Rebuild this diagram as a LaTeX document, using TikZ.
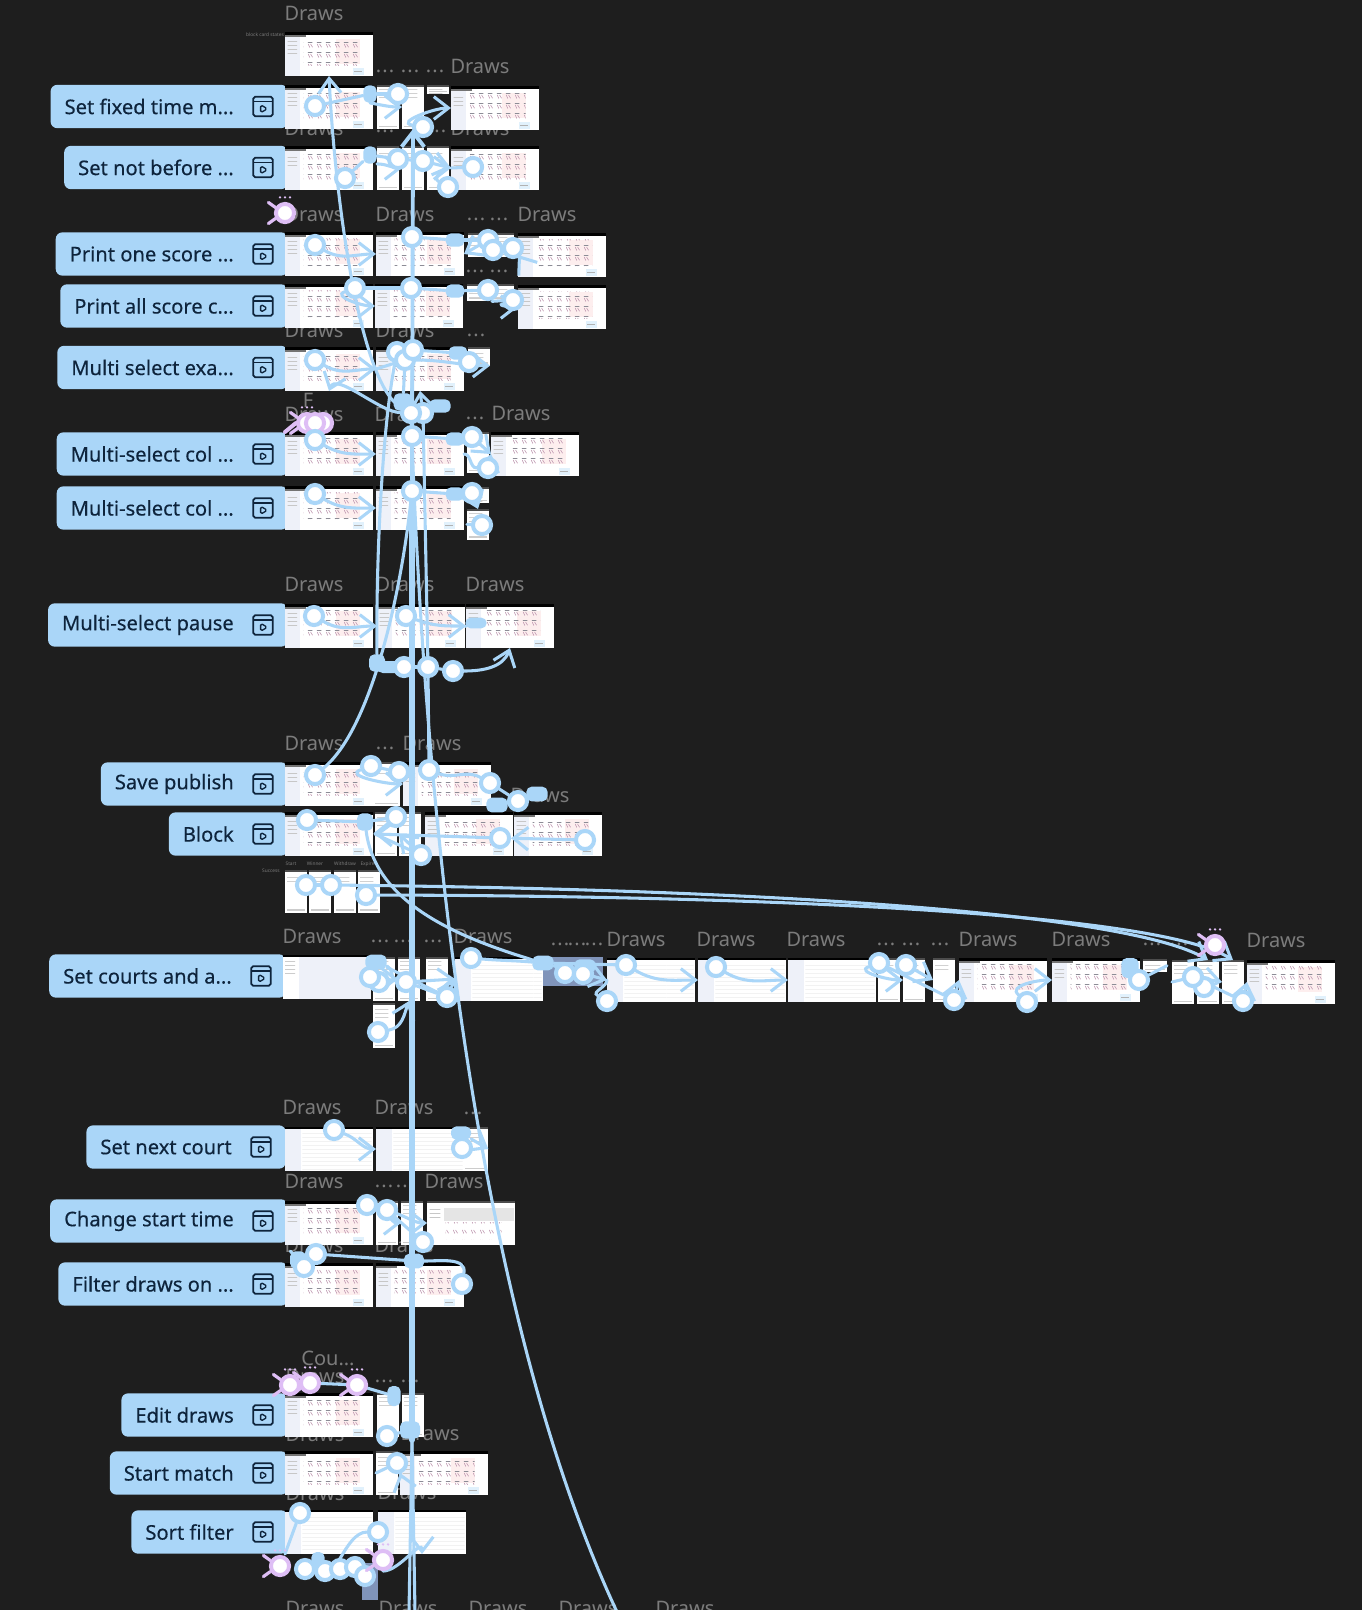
\documentclass[tikz,border=0pt]{standalone}
\usepackage{fontspec}
\setmainfont{Noto Sans}
\newfontfamily\pillfont{Noto Sans}[FakeBold=0.35]
\newfontfamily\dotfont{Noto Sans}[LetterSpace=6]
\usepackage{xcolor}
\usepackage{tikz}
\usetikzlibrary{arrows.meta, calc, patterns}
\definecolor{bgdark}{RGB}{30,30,30}
\definecolor{linkblue}{RGB}{170,214,248}
\definecolor{pilltext}{RGB}{14,36,60}
\definecolor{capgrey}{RGB}{124,124,124}
\definecolor{sparkpurple}{RGB}{222,190,245}
\definecolor{sideblue}{RGB}{238,241,249}
\definecolor{cardpink}{RGB}{190,150,175}
\definecolor{cardgrey}{RGB}{140,140,150}
\definecolor{tintpink}{RGB}{253,238,238}
\definecolor{dimblue}{RGB}{128,148,186}
\pgfdeclarelayer{back}
\pgfdeclarelayer{links}
\pgfsetlayers{back,links,main}
\pgfdeclarepatternformonly{cardgrid}{\pgfqpoint{0pt}{0pt}}{\pgfqpoint{6.4pt}{7.6pt}}{\pgfqpoint{6.4pt}{7.6pt}}{
  \pgfsetlinewidth{0.45pt}
  \pgfpathmoveto{\pgfqpoint{1pt}{4.8pt}}\pgfpathlineto{\pgfqpoint{2.2pt}{2pt}}
  \pgfpathmoveto{\pgfqpoint{2.8pt}{4.8pt}}\pgfpathlineto{\pgfqpoint{4.4pt}{2.2pt}}
  \pgfusepath{stroke}
}
\pgfdeclarepatternformonly{cardbar}{\pgfqpoint{0pt}{0pt}}{\pgfqpoint{6.4pt}{7.6pt}}{\pgfqpoint{6.4pt}{7.6pt}}{
  \pgfsetlinewidth{0.5pt}
  \pgfpathmoveto{\pgfqpoint{0.6pt}{6pt}}\pgfpathlineto{\pgfqpoint{4.2pt}{6pt}}
  \pgfusepath{stroke}
}
\tikzset{
  thumb/.style={rectangle, fill=white, inner sep=0pt, outer sep=0pt, anchor=north west,
    minimum width=66pt, minimum height=33pt},
  board/.style={thumb, path picture={
    \fill[black] (path picture bounding box.north west) rectangle ([yshift=-2.4pt]path picture bounding box.north east);
    \fill[sideblue] ([yshift=-2.4pt]path picture bounding box.north west) rectangle ([xshift=11pt]path picture bounding box.south west);
    \fill[black!55] ([yshift=-2.4pt]path picture bounding box.north west) rectangle ([shift={(16pt,-4pt)}]path picture bounding box.north west);
    \fill[pattern=horizontal lines, pattern color=black!22] ([shift={(2pt,-6pt)}]path picture bounding box.north west) rectangle ([shift={(9pt,-17pt)}]path picture bounding box.north west);
    \fill[tintpink] ([shift={(38pt,-5pt)}]path picture bounding box.north west) rectangle ([shift={(-10pt,9pt)}]path picture bounding box.south east);
    \fill[pattern=cardbar, pattern color=cardgrey] ([shift={(14pt,-5pt)}]path picture bounding box.north west) rectangle ([shift={(-10pt,8pt)}]path picture bounding box.south east);
    \fill[pattern=cardgrid, pattern color=cardpink] ([shift={(14pt,-5pt)}]path picture bounding box.north west) rectangle ([shift={(-10pt,8pt)}]path picture bounding box.south east);
    \fill[linkblue!35] ([shift={(-15pt,6pt)}]path picture bounding box.south east) rectangle ([shift={(-7pt,1pt)}]path picture bounding box.south east);
    \fill[black!30] ([shift={(-14pt,3.5pt)}]path picture bounding box.south east) rectangle ([shift={(-8pt,3pt)}]path picture bounding box.south east);
  }},
  blank/.style={thumb, path picture={
    \fill[black] (path picture bounding box.north west) rectangle ([yshift=-1.6pt]path picture bounding box.north east);
    \fill[sideblue] ([yshift=-1.6pt]path picture bounding box.north west) rectangle ([xshift=12pt]path picture bounding box.south west);
    \fill[pattern=horizontal lines, pattern color=black!5] ([shift={(13pt,-4pt)}]path picture bounding box.north west) rectangle ([shift={(-1pt,1pt)}]path picture bounding box.south east);
  }},
  paleblank/.style={thumb, fill=sideblue, path picture={
    \fill[black] (path picture bounding box.north west) rectangle ([yshift=-1.6pt]path picture bounding box.north east);
    \fill[white] ([yshift=-1.6pt]path picture bounding box.north west) rectangle ([xshift=12pt]path picture bounding box.south west);
    \fill[pattern=horizontal lines, pattern color=black!20] ([shift={(1.5pt,-3pt)}]path picture bounding box.north west) rectangle ([shift={(9pt,-14pt)}]path picture bounding box.north west);
  }},
  fadedboard/.style={thumb, path picture={
    \fill[black!70] (path picture bounding box.north west) rectangle ([yshift=-1.6pt]path picture bounding box.north east);
    \fill[black!10] ([shift={(13pt,-5pt)}]path picture bounding box.north west) rectangle ([shift={(-1pt,-15pt)}]path picture bounding box.north east);
    \fill[pattern=cardgrid, pattern color=cardpink] ([shift={(14pt,-16pt)}]path picture bounding box.north west) rectangle ([shift={(-10pt,4pt)}]path picture bounding box.south east);
    \fill[pattern=horizontal lines, pattern color=black!22] ([shift={(2pt,-4pt)}]path picture bounding box.north west) rectangle ([shift={(10pt,-14pt)}]path picture bounding box.north west);
  }},
  panel/.style={thumb, minimum width=16.5pt, path picture={
    \fill[black!70] (path picture bounding box.north west) rectangle ([yshift=-1.8pt]path picture bounding box.north east);
    \fill[pattern=horizontal lines, pattern color=black!18] ([shift={(1.5pt,-3pt)}]path picture bounding box.north west) rectangle ([shift={(-5pt,-11pt)}]path picture bounding box.north east);
    \fill[black!20] ([shift={(1.5pt,2.4pt)}]path picture bounding box.south west) rectangle ([shift={(-1.5pt,1.4pt)}]path picture bounding box.south east);
  }},
  dimframe/.style={thumb, fill=dimblue, minimum width=45pt, minimum height=22pt},
  pill/.style={rectangle, fill=linkblue, text=pilltext, anchor=east, rounded corners=5pt,
    minimum height=32.5pt, inner xsep=10.5pt, inner ysep=0pt, font=\pillfont\fontsize{15.1}{18}\selectfont,
    execute at end node={\hspace{30pt}}},
  playicon/.style={rectangle, draw=pilltext, line width=1.3pt, rounded corners=1.4pt, inner sep=0pt,
    minimum size=14.6pt, path picture={
      \draw[pilltext, line width=1.3pt] ([yshift=-3.6pt]path picture bounding box.north west) -- ([yshift=-3.6pt]path picture bounding box.north east);
      \draw[pilltext, line width=1pt, line join=round] ([shift={(-1.8pt,1.3pt)}]path picture bounding box.center) -- ([shift={(-1.8pt,-4.7pt)}]path picture bounding box.center) -- ([shift={(3.2pt,-1.7pt)}]path picture bounding box.center) -- cycle;
  }},
  caplabel/.style={text=capgrey, inner sep=0pt, font=\fontsize{15}{18}\selectfont},
  dotlabel/.style={caplabel, yshift=-2.2pt, font=\dotfont\fontsize{15}{18}\selectfont},
  tinylabel/.style={text=capgrey, inner sep=0pt, font=\fontsize{3.6}{4}\selectfont},
  hotspot/.style={circle, draw=linkblue, fill=white, line width=3pt, minimum size=13.6pt, inner sep=0pt},
  sparkarm/.style={draw=sparkpurple, line width=2.4pt, line cap=round},
  sparkdots/.style={draw=sparkpurple, line width=2pt, line cap=round, dash pattern=on 0pt off 3.75pt},
  spark/.style={hotspot, draw=sparkpurple, append after command={
    (\tikzlastnode.150) edge[sparkarm] ++(-7,-5)
    (\tikzlastnode.210) edge[sparkarm] ++(-7,5)
    ([xshift=-3.75pt,yshift=3.4pt]\tikzlastnode.north) edge[sparkdots] ++(10.5,0)}},
  plainspark/.style={hotspot, draw=sparkpurple},
  blob/.style={rectangle, rounded corners=4pt, fill=linkblue, inner sep=0pt, minimum width=14pt, minimum height=13pt},
  link/.style={draw=linkblue, line width=2.3pt, line cap=round},
  spine/.style={link, line width=4.2pt},
  flow/.style={link, -{Straight Barb[length=11pt, width=17pt]}}
}
\begin{document}
\begin{tikzpicture}[x=0.75pt, y=-0.75pt]
  \useasboundingbox (0,0) rectangle (1362,1610);

  \begin{pgfonlayer}{back}
  \fill[bgdark] (0,0) rectangle (1362,1610);
  % Captions, frames cover part of them
  \node[caplabel] (c1) at (314,13) {Draws};
  \node[tinylabel] (c2) at (265,35) {block card states};
  \node[dotlabel] (c3) at (385,68) {...};
  \node[dotlabel] (c4) at (410,68) {...};
  \node[dotlabel] (c5) at (435,68) {...};
  \node[caplabel] (c6) at (480,66) {Draws};
  \node[caplabel] (c7) at (314,128) {Draws};
  \node[dotlabel] (c8) at (385,128) {...};
  \node[dotlabel] (c9) at (437,128) {...};
  \node[caplabel] (c10) at (480,128) {Draws};
  \node[caplabel] (c11) at (314,214) {Draws};
  \node[caplabel] (c12) at (405,214) {Draws};
  \node[dotlabel] (c13) at (476,216) {...};
  \node[dotlabel] (c14) at (499,216) {...};
  \node[caplabel] (c15) at (547,214) {Draws};
  \node[dotlabel] (c16) at (475,268) {...};
  \node[dotlabel] (c17) at (499,268) {...};
  \node[caplabel] (c18) at (314,330) {Draws};
  \node[caplabel] (c19) at (405,330) {Draws};
  \node[dotlabel] (c20) at (476,332) {...};
  \node[caplabel] (c21) at (308,400) {F};
  \node[caplabel] (c22) at (314,414) {Draws};
  \node[caplabel] (c23) at (404,414) {Draws};
  \node[dotlabel] (c24) at (475,415) {...};
  \node[caplabel] (c25) at (521,413) {Draws};
  \node[caplabel] (c26) at (314,584) {Draws};
  \node[caplabel] (c27) at (405,584) {Draws};
  \node[caplabel] (c28) at (495,584) {Draws};
  \node[caplabel] (c29) at (314,743) {Draws};
  \node[dotlabel] (c30) at (385,745) {...};
  \node[caplabel] (c31) at (432,743) {Draws};
  \node[dotlabel] (c32) at (383,798) {...};
  \node[caplabel] (c33) at (540,795) {Draws};
  \node[caplabel] (c34) at (312,936) {Draws};
  \node[dotlabel] (c35) at (380,938) {...};
  \node[dotlabel] (c36) at (403,938) {...};
  \node[dotlabel] (c37) at (433,938) {...};
  \node[caplabel] (c38) at (483,936) {Draws};
  \node[dotlabel] (c39) at (560,941) {...};
  \node[dotlabel] (c40) at (577,941) {...};
  \node[dotlabel] (c41) at (594,941) {...};
  \node[caplabel] (c42) at (636,939) {Draws};
  \node[caplabel] (c43) at (726,939) {Draws};
  \node[caplabel] (c44) at (816,939) {Draws};
  \node[dotlabel] (c45) at (886,941) {...};
  \node[dotlabel] (c46) at (911,941) {...};
  \node[dotlabel] (c47) at (940,941) {...};
  \node[caplabel] (c48) at (988,939) {Draws};
  \node[caplabel] (c49) at (1081,939) {Draws};
  \node[dotlabel] (c50) at (1152,941) {...};
  \node[dotlabel] (c51) at (1179,941) {...};
  \node[caplabel] (c52) at (1276,940) {Draws};
  \node[caplabel] (c53) at (312,1107) {Draws};
  \node[caplabel] (c54) at (404,1107) {Draws};
  \node[dotlabel] (c55) at (473,1110) {...};
  \node[caplabel] (c56) at (314,1181) {Draws};
  \node[dotlabel] (c57) at (384,1183) {...};
  \node[dotlabel] (c58) at (405,1183) {...};
  \node[caplabel] (c59) at (454,1181) {Draws};
  \node[caplabel] (c60) at (314,1245) {Draws};
  \node[caplabel] (c61) at (404,1245) {Draws};
  \node[caplabel] (c62) at (328,1358) {Cou...};
  \node[caplabel] (c63) at (315,1376) {Draws};
  \node[dotlabel] (c64) at (384,1378) {...};
  \node[dotlabel] (c65) at (410,1378) {...};
  \node[caplabel] (c66) at (315,1434) {Draws};
  \node[caplabel] (c67) at (430,1433) {Draws};
  \node[caplabel] (c68) at (315,1493) {Draws};
  \node[caplabel] (c69) at (407,1492) {Draws};
  \node[caplabel] (c70) at (315,1608) {Draws};
  \node[caplabel] (c71) at (408,1608) {Draws};
  \node[caplabel] (c72) at (498,1608) {Draws};
  \node[caplabel] (c73) at (588,1608) {Draws};
  \node[caplabel] (c74) at (685,1608) {Draws};
  \node[tinylabel] (c75) at (271,871) {Success};
  \node[tinylabel] (c76) at (291,864) {Start};
  \node[tinylabel] (c77) at (315,864) {Winner};
  \node[tinylabel] (c78) at (345,864) {Withdraw};
  \node[tinylabel] (c79) at (369,864) {Expired};

  % Flow start pills
  \node[pill] (p1) at (288,106.5) {Set fixed time m...};
  \node[pill] (p2) at (288,167.5) {Set not before ...};
  \node[pill] (p3) at (288,254) {Print one score ...};
  \node[pill] (p4) at (288,306) {Print all score c...};
  \node[pill] (p5) at (288,367.5) {Multi select exa...};
  \node[pill] (p6) at (288,454) {Multi-select col ...};
  \node[pill] (p7) at (288,508) {Multi-select col ...};
  \node[pill] (p8) at (288,625) {Multi-select pause};
  \node[pill] (p9) at (288,784) {Save publish};
  \node[pill] (p10) at (288,834) {Block};
  \node[pill] (p11) at (286,976) {Set courts and a...};
  \node[pill] (p12) at (286,1147) {Set next court};
  \node[pill] (p13) at (288,1221) {Change start time};
  \node[pill] (p14) at (288,1284) {Filter draws on ...};
  \node[pill] (p15) at (288,1415) {Edit draws};
  \node[pill] (p16) at (288,1473) {Start match};
  \node[pill] (p17) at (288,1532) {Sort filter};

  % Frames
  \node[board] (f0) at (285,32) {};

  \node[board] (f1a) at (285,85) {};
  \node[panel, minimum height=33pt] (f1b) at (377,85) {};
  \node[panel, minimum height=33pt] (f1c) at (402,85) {};
  \node[panel, minimum height=7pt] (f1d) at (427,85) {};
  \node[board] (f1e) at (451,86) {};

  \node[board] (f2a) at (285,146) {};
  \node[panel, minimum height=33pt] (f2b) at (377,146) {};
  \node[panel, minimum height=33pt] (f2c) at (402,146) {};
  \node[panel, minimum height=33pt] (f2d) at (427,146) {};
  \node[board] (f2e) at (451,146) {};

  \node[board] (f3a) at (285,232) {};
  \node[board] (f3b) at (376,232) {};
  \node[panel, minimum height=18pt] (f3c) at (468,233) {};
  \node[panel, minimum height=18pt] (f3d) at (492,233) {};
  \node[board] (f3e) at (518,233) {};

  \node[board] (f4a) at (285,284) {};
  \node[board] (f4b) at (375,284) {};
  \node[panel, minimum height=13pt] (f4c) at (467,284) {};
  \node[panel, minimum height=13pt] (f4d) at (492,284) {};
  \node[board] (f4e) at (518,285) {};

  \node[board] (f5a) at (285,347) {};
  \node[board] (f5b) at (376,347) {};
  \node[panel, minimum height=14pt] (f5c) at (468,347) {};

  \node[board] (f6a) at (285,432) {};
  \node[board] (f6b) at (376,432) {};
  \node[panel, minimum height=31pt] (f6c) at (467,432) {};
  \node[board] (f6d) at (491,432) {};

  \node[board] (f7a) at (285,486) {};
  \node[board] (f7b) at (376,486) {};
  \node[panel, minimum height=12pt] (f7c) at (467,487) {};
  \node[panel, minimum height=23pt] (f7d) at (467,509) {};

  \node[board] (f8a) at (285,604) {};
  \node[board] (f8b) at (377,604) {};
  \node[board] (f8c) at (466,604) {};

  \node[board] (f9a) at (285,762) {};
  \node[panel, minimum height=33pt, minimum width=20pt] (f9b) at (373,762) {};
  \node[board] (f9c) at (403,762) {};

  \node[board] (f10a) at (285,812) {};
  \node[panel, minimum height=33pt] (f10b) at (375,812) {};
  \node[panel, minimum height=33pt] (f10c) at (399,812) {};
  \node[board] (f10d) at (425,812) {};
  \node[board] (f10e) at (514,812) {};

  \node[panel, minimum height=32pt, minimum width=16.5pt] (f11a) at (285,870) {};
  \node[panel, minimum height=32pt] (f11b) at (309,870) {};
  \node[panel, minimum height=32pt] (f11c) at (334,870) {};
  \node[panel, minimum height=32pt] (f11d) at (358,870) {};

  \node[paleblank] (f12a) at (283,955) {};
  \node[panel, minimum height=33pt] (f12b) at (373,957) {};
  \node[panel, minimum height=33pt] (f12c) at (398,957) {};
  \node[panel, minimum height=33pt] (f12d) at (426,957) {};
  \node[blank] (f12e) at (455,957) {};
  \node[dimframe] (f12f) at (543,957) {};
  \node[blank] (f12g) at (607,958) {};
  \node[blank] (f12h) at (698,958) {};
  \node[blank] (f12i) at (788,958) {};
  \node[panel, minimum height=33pt] (f12j) at (878,958) {};
  \node[panel, minimum height=33pt] (f12k) at (903,958) {};
  \node[panel, minimum height=33pt] (f12l) at (933,958) {};
  \node[board] (f12m) at (959,958) {};
  \node[board] (f12n) at (1052,958) {};
  \node[panel, minimum height=10pt, minimum width=18pt] (f12o) at (1143,959) {};
  \node[panel, minimum height=33pt] (f12p) at (1172,960) {};
  \node[panel, minimum height=33pt] (f12q) at (1197,960) {};
  \node[panel, minimum height=33pt] (f12r) at (1222,960) {};
  \node[board] (f12s) at (1247,960) {};
  \node[panel, minimum height=34pt] (f12t) at (373,1003) {};

  \node[blank] (f13a) at (285,1127) {};
  \node[blank] (f13b) at (376,1127) {};
  \node[panel, minimum height=33pt, minimum width=19pt] (f13c) at (463,1127) {};

  \node[board] (f14a) at (285,1201) {};
  \node[panel, minimum height=33pt] (f14b) at (376,1201) {};
  \node[panel, minimum height=33pt] (f14c) at (401,1201) {};
  \node[fadedboard] (f14d) at (427,1201) {};

  \node[board] (f15a) at (285,1263) {};
  \node[board] (f15b) at (376,1263) {};

  \node[board] (f16a) at (285,1393) {};
  \node[panel, minimum height=33pt] (f16b) at (377,1393) {};
  \node[panel, minimum height=33pt] (f16c) at (402,1393) {};

  \node[board] (f17a) at (285,1451) {};
  \node[panel, minimum height=33pt] (f17b) at (376,1451) {};
  \node[board] (f17c) at (400,1451) {};

  \node[blank] (f18a) at (285,1510) {};
  \node[blank] (f18b) at (378,1510) {};
  \node[thumb, fill=dimblue, minimum width=12pt, minimum height=28pt] (f18c) at (362,1563) {};
  \end{pgfonlayer}

  % Pill icons
  \node[playicon] (i1) at (263,106.5) {};
  \node[playicon] (i2) at (263,167.5) {};
  \node[playicon] (i3) at (263,254) {};
  \node[playicon] (i4) at (263,306) {};
  \node[playicon] (i5) at (263,367.5) {};
  \node[playicon] (i6) at (263,454) {};
  \node[playicon] (i7) at (263,508) {};
  \node[playicon] (i8) at (263,625) {};
  \node[playicon] (i9) at (263,784) {};
  \node[playicon] (i10) at (263,834) {};
  \node[playicon] (i11) at (261,976) {};
  \node[playicon] (i12) at (261,1147) {};
  \node[playicon] (i13) at (263,1221) {};
  \node[playicon] (i14) at (263,1284) {};
  \node[playicon] (i15) at (263,1415) {};
  \node[playicon] (i16) at (263,1473) {};
  \node[playicon] (i17) at (263,1532) {};

  % Hotspots and blobs
  \node[hotspot] (h1a) at (315,106) {};
  \node[blob, minimum width=10pt] (b1) at (370,94) {};
  \node[hotspot] (h1b) at (398,94) {};
  \node[hotspot] (h1c) at (423,127) {};

  \node[hotspot] (h2a) at (345,178) {};
  \node[blob, minimum width=10pt] (b2) at (370,155) {};
  \node[hotspot] (h2b) at (398,159) {};
  \node[hotspot] (h2c) at (423,161) {};
  \node[hotspot] (h2d) at (473,167) {};
  \node[hotspot] (h2e) at (448,187) {};

  \node[spark] (s3) at (285,213) {};
  \node[hotspot] (h3a) at (315,245) {};
  \node[hotspot] (h3b) at (412,237) {};
  \node[blob, minimum height=10pt] (b3) at (455,240) {};
  \node[hotspot] (h3c) at (488,240) {};
  \node[hotspot] (h3d) at (493,250) {};
  \node[hotspot] (h3e) at (513,248) {};

  \node[hotspot] (h4a) at (355,288) {};
  \node[hotspot] (h4b) at (411,288) {};
  \node[blob, minimum height=10pt] (b4) at (455,291) {};
  \node[hotspot] (h4c) at (488,290) {};
  \node[hotspot] (h4d) at (513,300) {};

  \node[hotspot] (h5a) at (315,360) {};
  \node[hotspot] (h5b) at (397,352) {};
  \node[hotspot] (h5c) at (405,360) {};
  \node[hotspot] (h5d) at (413,350) {};
  \node[blob, minimum height=10pt] (b5) at (458,353) {};
  \node[hotspot] (h5e) at (469,362) {};

  \node[blob] (b6a) at (403,402) {};
  \node[blob, minimum height=10pt, minimum width=16pt] (b6b) at (440,406) {};
  \node[hotspot] (h6e) at (423,413) {};
  \node[hotspot] (h6f) at (411,413) {};
  \node[spark] (s6a) at (307,423) {};
  \node[plainspark] (s6b) at (323,423) {};
  \node[plainspark] (s6c) at (315,423) {};
  \node[hotspot] (h6a) at (315,440) {};
  \node[hotspot] (h6b) at (412,436) {};
  \node[blob, minimum height=10pt] (b6c) at (455,439) {};
  \node[hotspot] (h6c) at (472,437) {};
  \node[hotspot] (h6d) at (488,468) {};

  \node[hotspot] (h7a) at (315,494) {};
  \node[hotspot] (h7b) at (412,491) {};
  \node[blob, minimum height=10pt] (b7) at (455,494) {};
  \node[hotspot] (h7c) at (472,493) {};
  \node[hotspot] (h7d) at (482,525) {};

  \node[hotspot] (h8a) at (314,616) {};
  \node[hotspot] (h8b) at (406,616) {};
  \node[blob, minimum width=16pt, minimum height=8pt] (b8a) at (476,623) {};
  \node[blob, minimum width=12pt] (b8b) at (377,663) {};
  \node[blob, minimum width=22pt, minimum height=9pt] (b8c) at (392,667) {};
  \node[hotspot] (h8c) at (404,667) {};
  \node[hotspot] (h8d) at (428,667) {};
  \node[hotspot] (h8e) at (453,671) {};

  \node[hotspot] (h9a) at (315,775) {};
  \node[hotspot] (h9b) at (371,766) {};
  \node[hotspot] (h9c) at (399,772) {};
  \node[hotspot] (h9d) at (429,770) {};
  \node[hotspot] (h9e) at (490,783) {};
  \node[blob, minimum width=16pt, minimum height=11pt] (b9a) at (497,805) {};
  \node[blob, minimum width=16pt, minimum height=11pt] (b9b) at (537,794) {};
  \node[hotspot] (h9f) at (518,801) {};

  \node[hotspot] (h10a) at (307,820) {};
  \node[blob, minimum width=12pt] (b10) at (365,822) {};
  \node[hotspot] (h10b) at (396,817) {};
  \node[hotspot] (h10c) at (421,855) {};
  \node[hotspot] (h10d) at (500,838) {};
  \node[hotspot] (h10e) at (585,840) {};

  \node[hotspot] (h11a) at (306,885) {};
  \node[hotspot] (h11b) at (331,885) {};
  \node[hotspot] (h11c) at (366,895) {};

  \node[blob, minimum width=16pt, minimum height=11pt] (b12a) at (376,962) {};
  \node[hotspot] (h12k) at (379,982) {};
  \node[hotspot] (h12a) at (370,977) {};
  \node[hotspot] (h12b) at (406,982) {};
  \node[hotspot] (h12c) at (447,997) {};
  \node[hotspot] (h12d) at (471,958) {};
  \node[blob, minimum width=16pt, minimum height=11pt] (b12b) at (543,963) {};
  \node[blob, minimum width=16pt, minimum height=10pt] (b12c) at (585,966) {};
  \node[hotspot] (h12e) at (565,973) {};
  \node[hotspot] (h12f) at (583,974) {};
  \node[hotspot] (h12g) at (607,1001) {};
  \node[hotspot] (h12h) at (626,965) {};
  \node[hotspot] (h12i) at (378,1032) {};
  \node[hotspot] (h12j) at (716,967) {};
  \node[hotspot] (h12l) at (879,963) {};
  \node[hotspot] (h12m) at (906,965) {};
  \node[hotspot] (h12n) at (954,1000) {};
  \node[hotspot] (h12o) at (1027,1002) {};
  \node[blob, minimum width=13pt, minimum height=15pt] (b12d) at (1130,968) {};
  \node[hotspot] (h12p) at (1139,980) {};
  \node[hotspot] (h12r) at (1204,987) {};
  \node[hotspot] (h12q) at (1193,977) {};
  \node[hotspot] (h12s) at (1243,1001) {};
  \node[spark] (s12) at (1215,945) {};

  \node[hotspot] (h13a) at (334,1130) {};
  \node[blob, minimum width=15pt, minimum height=10pt] (b13) at (461,1133) {};
  \node[hotspot] (h13b) at (462,1148) {};

  \node[hotspot] (h14a) at (367,1205) {};
  \node[hotspot] (h14b) at (387,1210) {};
  \node[hotspot] (h14d) at (423,1242) {};

  \node[blob, minimum width=12pt] (b15a) at (298,1260) {};
  \node[hotspot] (h15a) at (316,1254) {};
  \node[hotspot] (h15b) at (304,1267) {};
  \node[blob, minimum width=15pt, minimum height=11pt] (b15b) at (414,1261) {};
  \node[hotspot] (h15c) at (462,1284) {};

  \node[spark] (s16a) at (290,1385) {};
  \node[spark] (s16b) at (310,1383) {};
  \node[spark] (s16c) at (357,1385) {};
  \node[blob, minimum width=10pt, minimum height=15pt] (b16a) at (394,1396) {};
  \node[blob, minimum width=15pt, minimum height=13pt] (b16b) at (410,1430) {};
  \node[hotspot] (h16a) at (387,1436) {};

  \node[hotspot] (h17a) at (397,1463) {};

  \node[hotspot] (h18a) at (300,1513) {};
  \node[hotspot] (h18b) at (378,1532) {};
  \node[blob, minimum width=10pt, minimum height=12pt] (b18) at (318,1560) {};
  \node[spark] (s18a) at (280,1566) {};
  \node[hotspot] (h18c) at (305,1569) {};
  \node[hotspot] (h18d) at (325,1571) {};
  \node[hotspot] (h18e) at (340,1569) {};
  \node[hotspot] (h18f) at (355,1567) {};
  \node[hotspot] (h18g) at (365,1576) {};
  \node[spark] (s18b) at (383,1560) {};

  % Free ends at the bottom edge
  \coordinate (foota) at (409,1612);
  \coordinate (footb) at (415,1612);
  \coordinate (footc) at (617,1612);
  \coordinate (spinefoot) at (412,1440);

  \begin{pgfonlayer}{links}
  % Long connectors
  \draw[spine] (spinefoot) -- (h7b);
  \draw[link] (foota) -- (spinefoot);
  \draw[link] (footb) -- (spinefoot);
  \draw[flow, line width=2.9pt] (h7b) -- (f1c.south);
  \draw[link] (h7b) -- (h6b) -- (h6f);
  \draw[flow] (h6f) .. controls (360,385) and (335,200) .. (f0.south);
  \draw[link] (h9a) .. controls (370,730) and (400,600) .. (h7b);
  \draw[link] (b8b) .. controls (376,560) and (382,430) .. (h5b);
  \draw[link] (h6f) .. controls (428,900) and (490,1340) .. (footc);
  \draw[link] (h9d) -- (h8d) -- (h6e);
  \draw[link] (b10) .. controls (375,900) and (450,935) .. (b12b);
  \draw[link] (h11a) -- (h11b);
  \draw[flow] (h11b) .. controls (800,890) and (1130,915) .. (f12q.north);
  \draw[flow] (h11c) .. controls (800,896) and (1160,915) .. (f12r.north);
  \draw[link] (h5d) -- (h6f);
  \draw[link] (h5c) -- (b6a);

  % Rows
  \draw[link] (h1a) -- (b1);
  \draw[link] (b1) -- (h1b);
  \draw[flow] (b1.south) to[out=-10, in=180] (f1c.west);
  \draw[flow] (h1c) to[out=170, in=180] (f1e.west);

  \draw[link] (h2a) -- (b2);
  \draw[link] (b2) -- (h2b);
  \draw[flow] (b2.south east) to[out=0, in=180] (f2c.west);
  \draw[flow] (h2c) -- (f2e.west);
  \draw[flow] (h2e) to[out=150, in=180] (f2e.west);
  \draw[link] (h2d) -- (f2e.west);
  \draw[link] (h2c) -- (h2b);

  \draw[flow] (h3a) to[out=-30, in=180] (f3b.west);
  \draw[link] (h3b) -- (b3);
  \draw[link] (b3) -- (h3c);
  \draw[flow] (h3c) -- (f3b.east);
  \draw[flow] (h3e) -- (f3e.west);
  \draw[link] (h3d) -- (h3e);

  \draw[flow] (h4a) to[out=200, in=180] (f4b.west);
  \draw[link] (h4a) -- (h4b);
  \draw[link] (h4b) -- (b4);
  \draw[link] (b4) -- (h4c);
  \draw[link] (h4d) -- (f4d.south west);
  \draw[flow] (h4d) to[out=200, in=180] (f4e.west);

  \draw[flow] (h5a) to[out=-30, in=180] (f5b.west);
  \draw[link] (h5d) -- (b5);
  \draw[link] (h5b) -- (h5c);
  \draw[link] (h5c) -- (f5b.west);
  \draw[link] (b5) -- (h5e);
  \draw[flow] (h5c) to[out=0, in=180] (f5c.south east);

  \draw[flow] (h6f) to[out=178, in=70, looseness=0.7] (f5a.south);
  \draw[link] (h6f) -- (b6a);
  \draw[link] (h6e) -- (b6b);
  \draw[flow] (h6e) -- (f5b.south);
  \draw[sparkarm, line width=3pt] (s6a.west) -- (f6a.north west);
  \draw[flow] (h6a) to[out=-30, in=180] (f6b.west);
  \draw[link] (h6b) -- (b6c);
  \draw[link] (b6c) -- (h6c);
  \draw[flow] (h6c) -- (f6d.west);
  \draw[link] (h6d) to[out=180, in=0] (f6b.east);
  \draw[flow] (h6d) -- (f6d.west);

  \draw[flow] (h7a) to[out=-30, in=180] (f7b.west);
  \draw[link] (h7b) -- (b7);
  \draw[link] (b7) -- (h7c);
  \draw[flow] (h7c) -- (f7d.north);
  \draw[link] (h7d) -- (f7d.west);

  \draw[flow] (h8a) to[out=-30, in=180] (f8b.west);
  \draw[flow] (h8b) to[out=-20, in=180] (f8c.west);
  \draw[link] (f8c.west) -- (b8a);
  \draw[link] (b8c) -- (h8d);
  \draw[link] (h8d) -- (h8e);
  \draw[flow] (h8e) to[out=0, in=-110] (f8c.south);

  \draw[link] (h9b) -- (h9c);
  \draw[flow] (h9b) to[out=200, in=180] (f9c.west);
  \draw[link] (h9e) -- (h9f);
  \draw[link] (h9f) -- (b9a);
  \draw[link] (h9f) -- (b9b);
  \draw[link] (h9d) to[out=-20, in=150] (h9e);

  \draw[link] (h10a) -- (b10);
  \draw[link] (b10) -- (h10b);
  \draw[flow] (h10d) -- (f10b.west);
  \draw[flow] (h10e) -- (h10d);
  \draw[link] (h10b) -- (f10b.west);
  \draw[flow] (h10c) -- (f10c.west);
  \draw[link] (h10c) -- (f10b.west);

  \draw[link] (h12d) to[out=-5, in=175] (b12b);
  \draw[flow] (b12a) to[out=-20, in=180] (f12c.west);
  \draw[flow] (h12b) -- (f12e.west);
  \draw[link] (h12a) -- (h12b);
  \draw[flow] (h12c) -- (f12e.west);
  \draw[link] (h12b) -- (h12c);
  \draw[link] (b12a) -- (h12c);
  \draw[flow] (h12i) to[out=10, in=-110] (f12c.south);
  \draw[flow] (b12b) -- (f12g.west);
  \draw[link] (h12e) -- (h12f);
  \draw[link] (h12g) to[out=150, in=-90] (f12g.west);
  \draw[link] (h12h) -- (b12b);
  \draw[flow] (h12h) to[out=-30, in=180] (f12h.west);
  \draw[flow] (h12j) to[out=-30, in=180] (f12i.west);
  \draw[flow] (h12l) to[out=200, in=180] (f12k.west);
  \draw[flow] (h12m) -- (f12l.west);
  \draw[flow] (h12n) -- (f12m.west);
  \draw[link] (h12l) -- (h12n);
  \draw[flow] (h12o) to[out=140, in=180] (f12n.west);
  \draw[link] (b12d) -- (h12p);
  \draw[link] (h12p) -- (f12o.east);
  \draw[link] (h12q) -- (h12r);
  \draw[flow] (h12q) -- (f12r.west);
  \draw[flow] (h12s) -- (f12s.west);
  \draw[link] (f12p.west) -- (h12q);
  \draw[link] (h12q) -- (h12s);

  \draw[flow] (h13a) to[out=-20, in=180] (f13b.west);
  \draw[flow] (b13) -- (f13c.east);
  \draw[link] (b13) -- (h13b);

  \draw[flow] (h14a) to[out=-10, in=180] (f14c.west);
  \draw[flow] (h14b) to[out=-20, in=180] (f14d.west);
  \draw[link] (h14b) -- (h14d);

  \draw[link] (h15a) -- (b15b);
  \draw[link] (b15a) -- (h15b);
  \draw[link] (b15b) to[out=0, in=80] (h15c);

  \draw[link] (s16a) -- (s16b);
  \draw[link] (s16b) -- (s16c);
  \draw[link] (s16c) -- (b16a);
  \draw[link] (h16a) -- (b16b);

  \draw[link] (h17a) -- (f17b.west);
  \draw[flow] (h17a) -- (f17c.west);

  \draw[link] (h18a) -- (f18a.south west);
  \draw[link] (b18) to[out=-60, in=180] (h18b);
  \draw[link] (h18c) -- (h18g);
  \draw[flow] (s18b.south) to[out=0, in=90] (f18b.south);
  \end{pgfonlayer}
\end{tikzpicture}
\end{document}
